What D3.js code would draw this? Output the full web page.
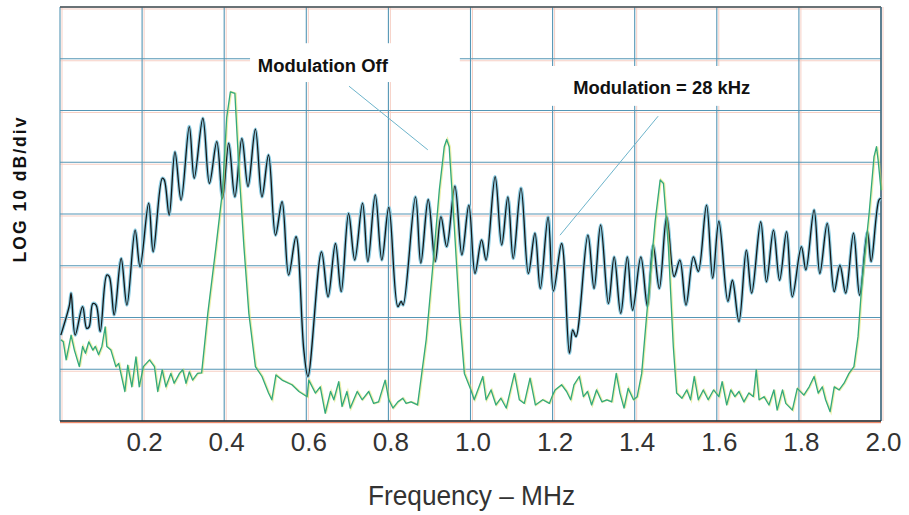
<!DOCTYPE html>
<html>
<head>
<meta charset="utf-8">
<script src="https://cdn.jsdelivr.net/npm/d3@7"></script>
<style>
  body { margin: 0; background: #fff; }
</style>
</head>
<body>
<div id="my_dataviz"></div>

<script>

// spectrum with modulation = 28 kHz (black trace), MHz / dB
var modOnFreq = [0.002,0.023,0.027,0.037,0.055,0.065,0.071,0.080,0.088,0.098,
  0.114,0.120,0.132,0.149,0.163,0.183,0.195,0.216,0.227,0.249,
  0.254,0.266,0.280,0.295,0.315,0.327,0.348,0.364,0.382,0.396,
  0.411,0.426,0.443,0.458,0.476,0.492,0.508,0.525,0.541,0.557,
  0.575,0.594,0.604,0.637,0.653,0.671,0.685,0.703,0.718,0.737,
  0.750,0.768,0.784,0.801,0.823,0.831,0.836,0.866,0.879,0.897,
  0.914,0.928,0.942,0.962,0.979,0.996,1.011,1.027,1.038,1.060,
  1.076,1.091,1.104,1.123,1.141,1.157,1.170,1.189,1.202,1.222,
  1.241,1.249,1.257,1.286,1.301,1.317,1.336,1.350,1.366,1.382,
  1.395,1.415,1.431,1.445,1.460,1.478,1.496,1.510,1.525,1.543,
  1.555,1.575,1.590,1.605,1.627,1.638,1.654,1.672,1.685,1.707,
  1.721,1.738,1.753,1.770,1.784,1.806,1.817,1.837,1.851,1.869,
  1.886,1.900,1.914,1.933,1.948,1.967,1.976,1.995,2.000];
var modOnLevel = [-63.4,-57.6,-55.3,-63.4,-57.9,-62.1,-61.8,-57.3,-57.6,-62.7,
  -51.8,-52.1,-59.5,-48.6,-57.6,-43.1,-50.2,-37.9,-47.3,-33.1,
  -33.4,-40.2,-28.0,-37.3,-23.1,-33.1,-21.5,-34.1,-26.0,-37.0,
  -26.3,-36.7,-25.4,-34.7,-23.6,-36.7,-28.6,-44.1,-37.6,-51.8,
  -44.4,-66.3,-71.4,-47.3,-56.0,-45.7,-55.0,-39.9,-48.9,-37.9,
  -49.2,-36.3,-48.9,-38.7,-57.9,-56.9,-57.6,-36.7,-49.5,-37.2,
  -49.2,-40.5,-46.3,-34.6,-47.9,-38.3,-51.5,-45.0,-48.9,-32.8,
  -46.0,-36.7,-48.6,-35.0,-51.5,-43.7,-54.4,-40.6,-54.9,-45.7,
  -66.9,-62.4,-63.7,-44.1,-54.4,-42.1,-57.3,-48.3,-59.2,-48.3,
  -58.6,-48.3,-57.8,-46.0,-54.4,-40.5,-52.1,-48.9,-57.6,-48.3,
  -51.1,-38.3,-52.4,-41.4,-56.9,-52.8,-60.8,-47.0,-55.3,-41.5,
  -53.1,-43.1,-52.8,-43.4,-56.0,-46.3,-50.8,-39.2,-51.5,-41.8,
  -55.0,-49.9,-55.3,-43.7,-55.7,-43.4,-49.2,-37.3,-37.0];

// spectrum with modulation off (green trace)
var modOffFreq = [0.002,0.008,0.015,0.027,0.035,0.047,0.055,0.062,0.070,0.080,
  0.086,0.094,0.102,0.110,0.114,0.124,0.136,0.143,0.158,0.165,
  0.175,0.185,0.193,0.203,0.218,0.230,0.238,0.249,0.258,0.270,
  0.278,0.291,0.299,0.307,0.315,0.323,0.335,0.345,0.360,0.380,
  0.396,0.406,0.415,0.426,0.435,0.448,0.460,0.476,0.492,0.508,
  0.516,0.526,0.541,0.565,0.582,0.602,0.606,0.622,0.634,0.646,
  0.659,0.667,0.679,0.687,0.699,0.707,0.724,0.736,0.752,0.764,
  0.776,0.792,0.801,0.811,0.823,0.835,0.843,0.855,0.871,0.879,
  0.892,0.908,0.924,0.936,0.942,0.948,0.961,0.973,0.985,1.001,
  1.009,1.030,1.038,1.050,1.062,1.074,1.087,1.107,1.119,1.131,
  1.145,1.158,1.176,1.192,1.200,1.206,1.222,1.234,1.244,1.252,
  1.265,1.275,1.285,1.295,1.307,1.320,1.332,1.344,1.355,1.364,
  1.374,1.384,1.397,1.406,1.417,1.433,1.450,1.462,1.470,1.482,
  1.494,1.502,1.515,1.527,1.536,1.545,1.555,1.567,1.579,1.592,
  1.605,1.613,1.624,1.634,1.644,1.654,1.666,1.678,1.689,1.696,
  1.703,1.715,1.727,1.739,1.747,1.760,1.768,1.784,1.796,1.812,
  1.825,1.837,1.847,1.857,1.865,1.876,1.886,1.898,1.910,1.922,
  1.934,1.944,1.954,1.971,1.983,1.989,1.993,2.000];
var modOffLevel = [-64.3,-64.7,-68.2,-63.4,-66.3,-69.5,-65.6,-66.9,-64.7,-66.3,
  -65.6,-67.2,-65.6,-61.8,-65.6,-66.3,-69.5,-68.9,-74.3,-69.2,
  -73.4,-67.6,-73.4,-69.5,-68.2,-69.5,-74.3,-70.1,-73.4,-70.8,
  -72.7,-70.8,-70.1,-72.7,-70.5,-72.1,-70.8,-70.7,-59.2,-46.3,
  -35.4,-21.4,-16.4,-16.7,-30.2,-46.3,-59.2,-69.5,-71.4,-74.6,
  -75.9,-71.1,-72.1,-73.0,-74.3,-75.3,-72.1,-74.6,-73.4,-78.5,
  -74.3,-75.9,-72.4,-77.2,-74.3,-77.5,-74.3,-75.9,-74.3,-76.6,
  -76.3,-72.1,-75.9,-77.5,-76.3,-75.6,-76.6,-76.3,-76.9,-72.1,
  -64.3,-50.2,-35.4,-27.0,-25.6,-27.0,-43.1,-59.2,-70.8,-74.0,
  -75.9,-71.4,-75.9,-74.0,-76.9,-75.6,-77.5,-70.8,-75.9,-76.6,
  -71.7,-76.9,-75.9,-76.6,-75.0,-74.0,-73.0,-74.3,-75.9,-73.0,
  -71.4,-75.3,-74.3,-76.9,-74.0,-76.3,-75.9,-76.3,-70.8,-74.6,
  -77.5,-73.7,-75.9,-75.3,-70.8,-56.0,-41.2,-33.4,-34.1,-46.3,
  -65.6,-74.6,-75.6,-74.0,-75.9,-71.4,-75.9,-74.0,-75.9,-74.0,
  -75.3,-72.4,-76.9,-74.0,-75.3,-74.3,-76.3,-74.6,-75.3,-70.1,
  -75.9,-75.3,-76.9,-74.0,-77.9,-74.0,-76.6,-77.9,-73.7,-75.0,
  -73.4,-71.4,-74.6,-73.4,-75.9,-78.2,-73.4,-74.0,-72.7,-70.8,
  -69.5,-63.7,-52.8,-39.9,-28.9,-27.0,-29.6,-35.4];

// axis ticks and grid
var xTickValues = [0.2, 0.4, 0.6, 0.8, 1.0, 1.2, 1.4, 1.6, 1.8, 2.0];
var xTickLabels = ["0.2", "0.4", "0.6", "0.8", "1.0", "1.2", "1.4", "1.6", "1.8", "2.0"];
var xGridValues = [0, 0.2, 0.4, 0.6, 0.8, 1.0, 1.2, 1.4, 1.6, 1.8, 2.0];
var yGridValues = [-80, -70, -60, -50, -40, -30, -20, -10, 0];

// size of the picture and plot box
var width = 909, height = 515;
var margin = {top: 7, right: 28, bottom: 94, left: 60};

var svg = d3.select("#my_dataviz")
  .append("svg")
    .attr("width", width)
    .attr("height", height)
    .style("font-family", "'Liberation Sans', Arial, sans-serif");

var x = d3.scaleLinear()
  .domain([0, 2])
  .range([margin.left, width - margin.right]);
var y = d3.scaleLinear()
  .domain([-80, 0])
  .range([height - margin.bottom, margin.top]);

// grid (blue lines with a faint pink misregistered shadow)
var grid = svg.append("g");
grid.selectAll(".vshadow").data(xGridValues).enter().append("line")
  .attr("x1", function(d) { return x(d) + 2; }).attr("x2", function(d) { return x(d) + 2; })
  .attr("y1", y(0)).attr("y2", y(-80))
  .attr("stroke", "#f7cfc4").attr("stroke-width", 1);
grid.selectAll(".hshadow").data(yGridValues).enter().append("line")
  .attr("x1", x(0)).attr("x2", x(2))
  .attr("y1", function(d) { return y(d) + 2; }).attr("y2", function(d) { return y(d) + 2; })
  .attr("stroke", "#f7cfc4").attr("stroke-width", 1);
grid.selectAll(".vline").data(xGridValues).enter().append("line")
  .attr("x1", function(d) { return x(d); }).attr("x2", function(d) { return x(d); })
  .attr("y1", y(0)).attr("y2", y(-80))
  .attr("stroke", "#5496b5").attr("stroke-width", 1.1);
grid.selectAll(".hline").data(yGridValues).enter().append("line")
  .attr("x1", x(0)).attr("x2", x(2))
  .attr("y1", function(d) { return y(d); }).attr("y2", function(d) { return y(d); })
  .attr("stroke", "#5496b5").attr("stroke-width", 1.1);

// frame: dark top/right, dark bottom with orange edge
svg.append("line").attr("x1", x(0)).attr("x2", x(2)).attr("y1", y(0)).attr("y2", y(0))
  .attr("stroke", "#555").attr("stroke-width", 1.6);
svg.append("line").attr("x1", x(2)).attr("x2", x(2)).attr("y1", y(0)).attr("y2", y(-80))
  .attr("stroke", "#4d6f80").attr("stroke-width", 1.6);
svg.append("line").attr("x1", x(0)).attr("x2", x(2)).attr("y1", y(-80) + 1.5).attr("y2", y(-80) + 1.5)
  .attr("stroke", "#ee8a6a").attr("stroke-width", 1.2);
svg.append("line").attr("x1", x(0)).attr("x2", x(2)).attr("y1", y(-80)).attr("y2", y(-80))
  .attr("stroke", "#2e2a2a").attr("stroke-width", 1.5);

// white boxes behind the annotations
svg.append("rect")
  .attr("x", x(0.463)).attr("y", y(-7.0))
  .attr("width", x(0.974) - x(0.463)).attr("height", y(-14.5) - y(-7.0))
  .attr("fill", "#fff");
svg.append("rect")
  .attr("x", x(1.181)).attr("y", y(-11.4))
  .attr("width", x(1.717) - x(1.181)).attr("height", y(-19.1) - y(-11.4))
  .attr("fill", "#fff");

// leader lines
svg.append("line")
  .attr("x1", x(0.704)).attr("y1", y(-15.3)).attr("x2", x(0.896)).attr("y2", y(-27.6))
  .attr("stroke", "#6db4cb").attr("stroke-width", 1);
svg.append("line")
  .attr("x1", x(1.457)).attr("y1", y(-21.1)).attr("x2", x(1.218)).attr("y2", y(-44.1))
  .attr("stroke", "#6db4cb").attr("stroke-width", 1);

// traces
var modOn = modOnFreq.map(function(f, i) { return {f: f, v: modOnLevel[i]}; });
var modOff = modOffFreq.map(function(f, i) { return {f: f, v: modOffLevel[i]}; });

var smoothLine = d3.line()
  .x(function(d) { return x(d.f); })
  .y(function(d) { return y(d.v); })
  .curve(d3.curveCatmullRom.alpha(0.5));
var rawLine = d3.line()
  .x(function(d) { return x(d.f); })
  .y(function(d) { return y(d.v); });

svg.append("path").datum(modOn).attr("d", smoothLine)
  .attr("fill", "none").attr("stroke", "#8fcde2").attr("stroke-width", 3.4);
svg.append("path").datum(modOn).attr("d", smoothLine)
  .attr("fill", "none").attr("stroke", "#161616").attr("stroke-width", 1.3);

svg.append("path").datum(modOff).attr("d", rawLine)
  .attr("fill", "none").attr("stroke", "#d9df5a").attr("stroke-width", 2)
  .attr("stroke-opacity", 0.5).attr("transform", "translate(0.8,0)");
svg.append("path").datum(modOff).attr("d", rawLine)
  .attr("fill", "none").attr("stroke", "#33a97c").attr("stroke-width", 1.3)
  .attr("stroke-linejoin", "round");

// x axis labels
var xAxis = svg.append("g")
  .attr("transform", "translate(2," + y(-80) + ")")
  .call(d3.axisBottom(x).tickValues(xTickValues).tickSize(0).tickPadding(12)
    .tickFormat(function(d, i) { return xTickLabels[i]; }));
xAxis.select(".domain").remove();
xAxis.selectAll("text")
  .attr("fill", "#333")
  .style("font-family", "'Liberation Sans Narrow', 'Arial Narrow', 'Liberation Sans', sans-serif")
  .style("font-size", "26px");

// titles and annotations
svg.append("text")
  .attr("x", (x(0) + x(2)) / 2 + 1).attr("y", 505)
  .attr("text-anchor", "middle")
  .attr("fill", "#333")
  .style("font-family", "'Liberation Sans Narrow', 'Arial Narrow', 'Liberation Sans', sans-serif")
  .style("font-size", "27px")
  .attr("textLength", 207).attr("lengthAdjust", "spacingAndGlyphs")
  .text("Frequency \u2013 MHz");

svg.append("text")
  .attr("transform", "translate(26," + 190 + ") rotate(-90)")
  .attr("text-anchor", "middle")
  .attr("fill", "#111")
  .style("font-weight", "bold").style("font-size", "17.5px")
  .attr("textLength", 145).attr("lengthAdjust", "spacing")
  .text("LOG 10 dB/div");

svg.append("text")
  .attr("x", x(0.482)).attr("y", y(-12.6))
  .attr("fill", "#111")
  .style("font-weight", "bold").style("font-size", "18px")
  .attr("textLength", 130).attr("lengthAdjust", "spacingAndGlyphs")
  .text("Modulation Off");

svg.append("text")
  .attr("x", x(1.25)).attr("y", y(-16.8))
  .attr("fill", "#111")
  .style("font-weight", "bold").style("font-size", "18px")
  .attr("textLength", 177).attr("lengthAdjust", "spacingAndGlyphs")
  .text("Modulation = 28 kHz");

</script>
</body>
</html>
